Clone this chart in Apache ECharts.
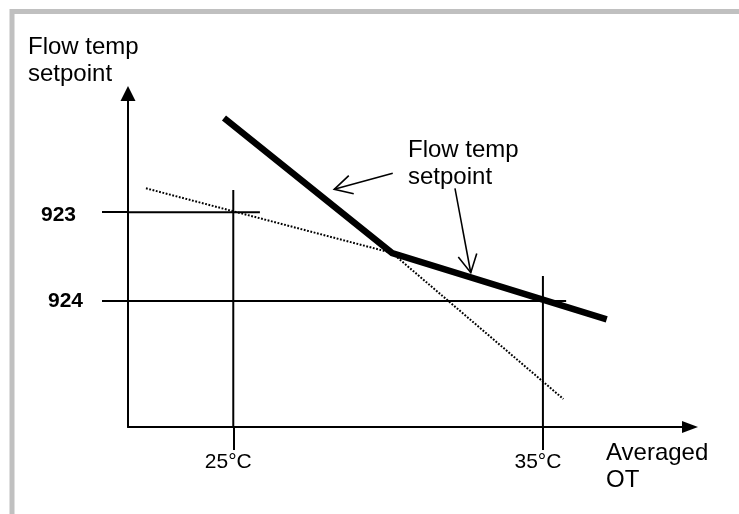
<!DOCTYPE html>
<html>
<head>
<meta charset="utf-8">
<style>
html,body{margin:0;padding:0;background:#fff;}
#chart{width:739px;height:514px;}
</style>
<script src="https://cdn.jsdelivr.net/npm/echarts@6/dist/echarts.min.js"></script>
</head>
<body>
<div id="chart"></div>
<script>
// Outside temperature ticks (x) and parameter setpoints (y, arbitrary units)
const tempTicks = [25, 35];
const tempTickLabels = ['25°C', '35°C'];
const paramValues = [64.4, 37.8];
const paramLabels = ['923', '924'];

// Flow temp setpoint curve (thick line)
const curveX = [24.70, 30.13, 37.06];
const curveY = [92.65, 52.17, 32.29];

// Dotted extensions of the two curve segments
const shallowExtX = [22.18, 30.13];
const shallowExtY = [71.57, 52.17];
const steepExtX = [30.13, 35.66];
const steepExtY = [52.17, 8.40];

// Reference (construction) lines
const ref25Top = 71.06;
const ref35Top = 45.28;
const ref923End = 25.86;
const ref924End = 35.75;

// Annotation arrows [x1, y1, x2(tip), y2(tip)]
const annotArrows = [
  [30.15, 76.07, 28.26, 71.27],
  [32.16, 71.57, 32.67, 46.27]
];

const X_MIN = 21.6, X_MAX = 39.75, Y_MIN = 0, Y_MAX = 100;
const FONT = "'Liberation Sans', Arial, sans-serif";

function zip(xs, ys) { return xs.map((x, i) => [x, ys[i]]); }

const chart = echarts.init(document.getElementById('chart'), null, {renderer: 'canvas'});

const option = {
  animation: false,
  backgroundColor: '#fff',
  title: [
    {text: 'Flow temp\nsetpoint', left: 28, top: 34, padding: 0,
     textStyle: {fontFamily: FONT, fontSize: 24, fontWeight: 'normal', lineHeight: 26.6, color: '#000'}},
    {text: 'Flow temp\nsetpoint', left: 408, top: 137.5, padding: 0,
     textStyle: {fontFamily: FONT, fontSize: 24, fontWeight: 'normal', lineHeight: 26.6, color: '#000'}},
    {text: 'Averaged\nOT', left: 606, top: 440, padding: 0,
     textStyle: {fontFamily: FONT, fontSize: 24, fontWeight: 'normal', lineHeight: 26.6, color: '#000'}}
  ],
  graphic: [
    {type: 'rect', shape: {x: 12, y: 11.5, width: 1000, height: 1000},
     style: {fill: null, stroke: '#c0c0c0', lineWidth: 5}, silent: true, z: -10}
  ],
  grid: {left: 128, right: 49, top: 93.5, bottom: 87, containLabel: false, outerBoundsMode: 'none'},
  xAxis: {
    type: 'value', min: X_MIN, max: X_MAX,
    splitLine: {show: false},
    axisLine: {show: true, symbol: ['none', 'triangle'], symbolSize: [12, 16],
               lineStyle: {color: '#000', width: 2}},
    axisTick: {show: true, customValues: tempTicks, length: 23, inside: false,
               lineStyle: {color: '#000', width: 2}},
    axisLabel: {show: true, customValues: tempTicks, margin: 25,
                formatter: function (v) { const i = tempTicks.indexOf(v); return i >= 0 ? tempTickLabels[i] : ''; },
                fontFamily: FONT, fontSize: 21, color: '#000', padding: [0, 10, 0, 0]}
  },
  yAxis: {
    type: 'value', min: Y_MIN, max: Y_MAX,
    splitLine: {show: false},
    axisLine: {show: true, symbol: ['none', 'triangle'], symbolSize: [15, 15],
               lineStyle: {color: '#000', width: 2}},
    axisTick: {show: true, customValues: paramValues, length: 26, inside: false,
               lineStyle: {color: '#000', width: 2}},
    axisLabel: {show: true, customValues: paramValues, margin: 45,
                formatter: function (v) {
                  const i = paramValues.indexOf(v);
                  if (i < 0) return '';
                  return (i === 0 ? '{a|' : '{b|') + paramLabels[i] + '}';
                },
                fontFamily: FONT, fontSize: 21, fontWeight: 'bold', color: '#000',
                rich: {
                  a: {fontFamily: FONT, fontSize: 21, fontWeight: 'bold', color: '#000', padding: [6, 7, 0, 0]},
                  b: {fontFamily: FONT, fontSize: 21, fontWeight: 'bold', color: '#000', padding: [1, 0, 0, 0]}
                }}
  },
  series: [
    {type: 'line', name: 'ref25', data: [[tempTicks[0], Y_MIN], [tempTicks[0], ref25Top]],
     symbol: 'none', clip: false, lineStyle: {color: '#000', width: 2}, z: 1},
    {type: 'line', name: 'ref35', data: [[tempTicks[1], Y_MIN], [tempTicks[1], ref35Top]],
     symbol: 'none', clip: false, lineStyle: {color: '#000', width: 2}, z: 1},
    {type: 'line', name: 'ref923', data: [[X_MIN, paramValues[0]], [ref923End, paramValues[0]]],
     symbol: 'none', clip: false, lineStyle: {color: '#000', width: 2}, z: 1},
    {type: 'line', name: 'ref924', data: [[X_MIN, paramValues[1]], [ref924End, paramValues[1]]],
     symbol: 'none', clip: false, lineStyle: {color: '#000', width: 2}, z: 1},
    {type: 'line', name: 'shallowExt', data: zip(shallowExtX, shallowExtY),
     symbol: 'none', clip: false, lineStyle: {color: '#000', width: 2, type: [1.8, 1.6]}, z: 2},
    {type: 'line', name: 'steepExt', data: zip(steepExtX, steepExtY),
     symbol: 'none', clip: false, lineStyle: {color: '#000', width: 2, type: [1.8, 1.6]}, z: 2},
    {type: 'line', name: 'Flow temp setpoint', data: zip(curveX, curveY),
     symbol: 'none', clip: false, lineStyle: {color: '#000', width: 6.5, cap: 'butt', join: 'miter'}, z: 3},
    {type: 'custom', name: 'annotation', data: annotArrows, clip: false,
     encode: {x: [0, 2], y: [1, 3]}, z: 4,
     renderItem: function (params, api) {
       const p1 = api.coord([api.value(0), api.value(1)]);
       const p2 = api.coord([api.value(2), api.value(3)]);
       const ang = Math.atan2(p1[1] - p2[1], p1[0] - p2[0]);
       const L = 20, a = 28 * Math.PI / 180;
       const h1 = [p2[0] + L * Math.cos(ang + a), p2[1] + L * Math.sin(ang + a)];
       const h2 = [p2[0] + L * Math.cos(ang - a), p2[1] + L * Math.sin(ang - a)];
       return {type: 'group', children: [
         {type: 'line', shape: {x1: p1[0], y1: p1[1], x2: p2[0], y2: p2[1]},
          style: {stroke: '#000', lineWidth: 1.6}},
         {type: 'polyline', shape: {points: [h1, p2, h2]},
          style: {stroke: '#000', fill: null, lineWidth: 1.6}}
       ]};
     }}
  ]
};
chart.setOption(option);
</script>
</body>
</html>
